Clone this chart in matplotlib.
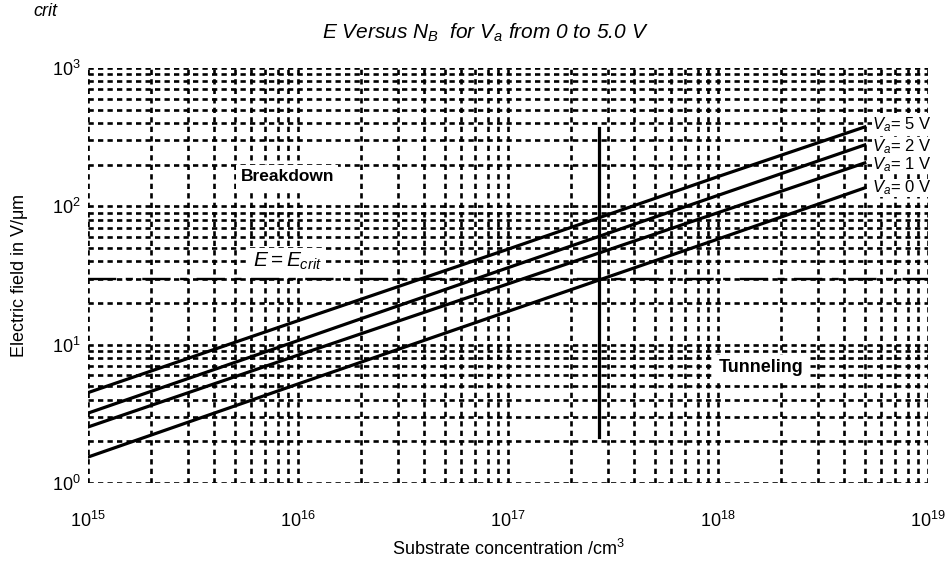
import numpy as np
import matplotlib
matplotlib.use('Agg')
import matplotlib.pyplot as plt
from matplotlib.ticker import LogLocator, NullFormatter

plt.rcParams['font.family'] = ['Liberation Sans', 'DejaVu Sans']
plt.rcParams['mathtext.fontset'] = 'custom'
plt.rcParams['mathtext.rm'] = 'Liberation Sans'
plt.rcParams['mathtext.it'] = 'Liberation Sans:italic'
plt.rcParams['mathtext.bf'] = 'Liberation Sans:bold'

# substrate doping (cm^-3) and peak field (V/um) for each applied bias
N_B = [1e15, 1e16, 1e17, 1e18, 5e18]
E_va0 = [1.54, 5.2, 17.4, 58, 136]
E_va1 = [2.54, 8.4, 27.5, 90, 206]
E_va2 = [3.2, 10.7, 36, 120, 278]
E_va5 = [4.5, 14.9, 49, 164, 375]
bias_labels = ['0', '1', '2', '5']

E_crit = 30.0
N_crit = 2.7e17
vline_E = [2.15, 369]

fig = plt.figure(figsize=(9.48, 5.64), dpi=100)
ax = fig.add_axes([88/948, 81/564, 840/948, 415/564])
ax.set_xscale('log')
ax.set_yscale('log')
ax.set_xlim(1e15, 1e19)
ax.set_ylim(1e0, 1e3)

# dotted grid everywhere, no frame
ax.xaxis.set_minor_locator(LogLocator(base=10, subs=np.arange(2, 10)))
ax.yaxis.set_minor_locator(LogLocator(base=10, subs=np.arange(2, 10)))
ax.xaxis.set_minor_formatter(NullFormatter())
ax.yaxis.set_minor_formatter(NullFormatter())
for which in ['major', 'minor']:
    ax.grid(True, which=which, color='black', linestyle=(0, (2.0, 1.6)), linewidth=1.9)
for s in ax.spines.values():
    s.set_visible(False)
ax.tick_params(which='both', length=0)
ax.tick_params(axis='x', pad=20, labelsize=13)
ax.tick_params(axis='y', pad=5, labelsize=13)

curves = [E_va0, E_va1, E_va2, E_va5]
# vertical nudge (points) so the stacked labels don't collide
label_dy = [0, -1, -1, 1.5]
for E, lab, dy in zip(curves, bias_labels, label_dy):
    ax.plot(N_B, E, color='black', linewidth=2.3, zorder=3)
    ax.annotate(r'$V_a$= ' + lab + ' V', xy=(N_B[-1], E[-1]), xytext=(5, dy),
                textcoords='offset points', ha='left', va='center', fontsize=12,
                bbox=dict(facecolor='white', edgecolor='none', pad=0), zorder=4)

ax.axhline(E_crit, color='black', linewidth=1.7, linestyle=(0, (12, 4, 3, 4)), zorder=3)
ax.plot([N_crit, N_crit], vline_E, color='black', linewidth=2.3, zorder=3)

ax.text(8.9e15, 163, 'Breakdown', fontsize=12.5, fontweight='bold', ha='center', va='center',
        bbox=dict(facecolor='white', edgecolor='none', pad=3), zorder=4)
ax.text(1.6e18, 6.8, 'Tunneling', fontsize=13, fontweight='bold', ha='center', va='center',
        bbox=dict(facecolor='white', edgecolor='none', pad=3), zorder=4)
ax.text(8.9e15, 40, r'$E = E_{crit}$', fontsize=15, ha='center', va='center',
        bbox=dict(facecolor='white', edgecolor='none', pad=2), zorder=4)

ax.set_xlabel('Substrate concentration /cm$^3$', fontsize=13, labelpad=6)
ax.set_ylabel(r'Electric field in V/$\mathrm{\mu}$m', fontsize=13, labelpad=16)

fig.text(485/948, 1 - 33/564, r'E Versus $N_B$  for $V_a$ from 0 to 5.0 V',
         style='italic', ha='center', va='center', fontsize=15)
fig.text(33/948, 1 - 12/564, 'crit', style='italic', ha='left', va='center', fontsize=13)

fig.savefig('out.png', dpi=100)
